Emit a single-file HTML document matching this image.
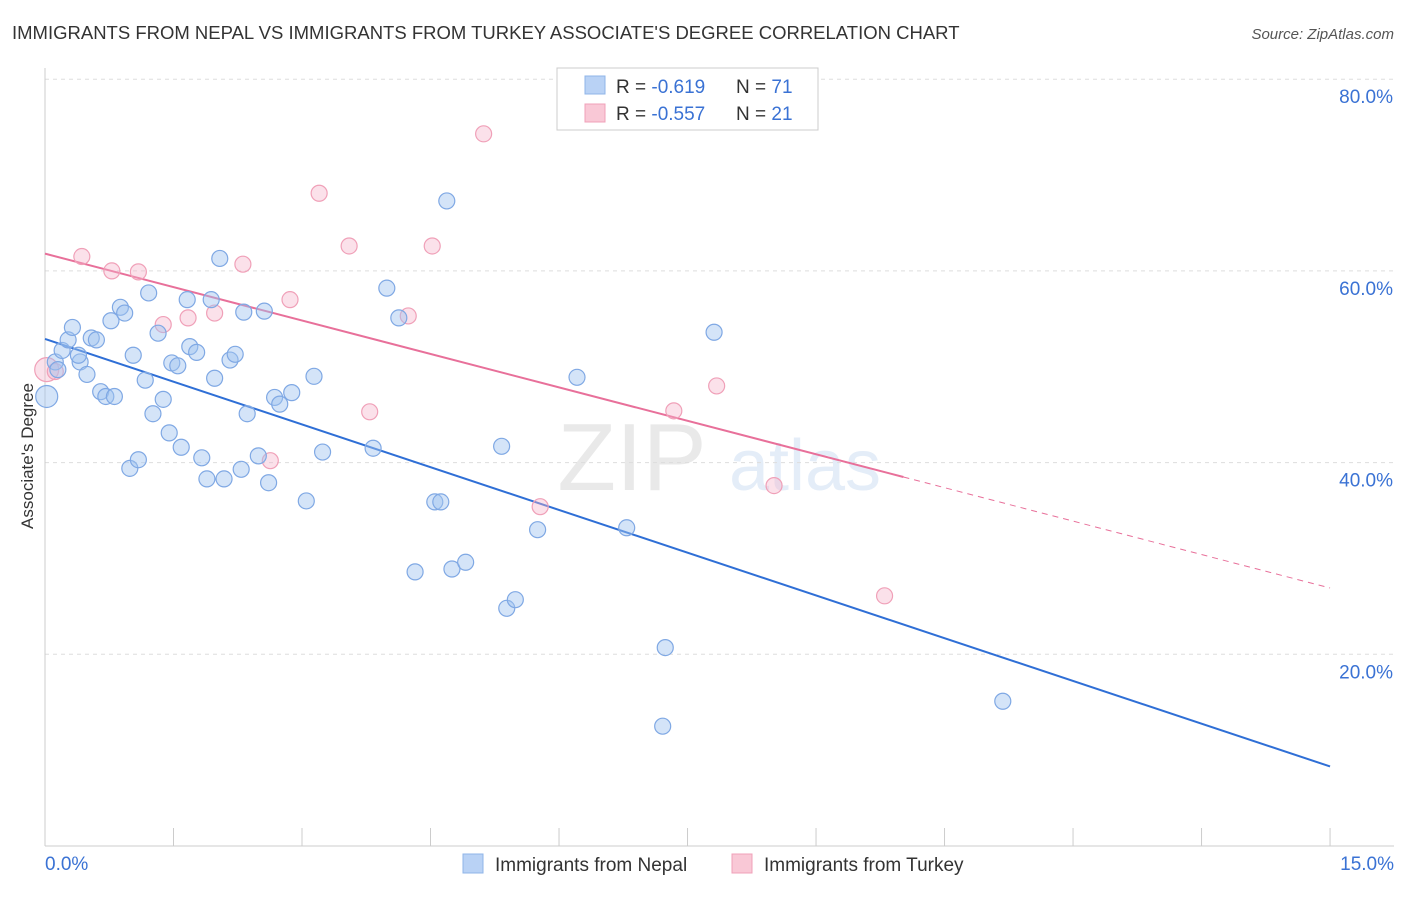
<!DOCTYPE html>
<html><head><meta charset="utf-8"><style>
body{margin:0;background:#fff;font-family:"Liberation Sans",sans-serif;}
svg text{font-family:"Liberation Sans",sans-serif;}
</style></head><body>
<svg id="chart" width="1406" height="892" viewBox="0 0 1406 892">
<text x="12" y="39" font-size="18.5" fill="#333">IMMIGRANTS FROM NEPAL VS IMMIGRANTS FROM TURKEY ASSOCIATE'S DEGREE CORRELATION CHART</text>
<text x="1394" y="39" font-size="15" fill="#555" text-anchor="end" font-style="italic">Source: ZipAtlas.com</text>
<text transform="translate(33,456) rotate(-90)" font-size="17" fill="#333" text-anchor="middle">Associate's Degree</text>
<g opacity="0.18">
<text x="632" y="490" font-size="96" fill="#888" text-anchor="middle" font-family="Liberation Serif">ZIP</text>
<text x="805" y="490" font-size="72" fill="#6f9fdc" text-anchor="middle">atlas</text>
</g>
<g id="grid"></g><g id="axes"></g><g id="lines"></g><g id="pts"></g>
<g>
<rect x="557" y="68" width="261" height="62" fill="#fff" stroke="#ccc"/>
<rect x="585" y="76" width="20" height="18" fill="#b9d2f5" stroke="#8fb4e8"/>
<rect x="585" y="104" width="20" height="18" fill="#f9c8d6" stroke="#f0a0b8"/>
<text x="616" y="93" font-size="19" fill="#333">R = <tspan fill="#3a72d4">-0.619</tspan></text>
<text x="736" y="93" font-size="19" fill="#333">N = <tspan fill="#3a72d4">71</tspan></text>
<text x="616" y="120" font-size="19" fill="#333">R = <tspan fill="#3a72d4">-0.557</tspan></text>
<text x="736" y="120" font-size="19" fill="#333">N = <tspan fill="#3a72d4">21</tspan></text>
</g>
<g>
<rect x="463" y="854" width="20" height="19" fill="#b9d2f5" stroke="#8fb4e8"/>
<text x="495" y="871" font-size="19" fill="#333">Immigrants from Nepal</text>
<rect x="732" y="854" width="20" height="19" fill="#f9c8d6" stroke="#f0a0b8"/>
<text x="764" y="871" font-size="19" fill="#333">Immigrants from Turkey</text>
</g>
</svg>
<script>
const nepalX=[0.02,0.12,0.15,0.20,0.27,0.32,0.41,0.39,0.49,0.54,0.60,0.65,0.71,0.81,0.77,0.88,0.93,1.03,0.99,1.09,1.17,1.21,1.26,1.32,1.38,1.45,1.48,1.55,1.59,1.66,1.69,1.77,1.83,1.89,1.94,1.98,2.04,2.09,2.16,2.22,2.29,2.32,2.36,2.49,2.56,2.61,2.68,2.74,2.88,3.05,3.14,3.24,3.83,3.99,4.13,4.32,4.55,4.62,4.69,4.75,4.91,5.33,5.39,5.49,5.75,6.21,6.79,7.24,7.21,7.81,11.18];
const nepalY=[46.9,50.5,49.7,51.7,52.8,54.1,50.5,51.2,49.2,53.0,52.8,47.4,46.9,46.9,54.8,56.2,55.6,51.2,39.4,40.3,48.6,57.7,45.1,53.5,46.6,43.1,50.4,50.1,41.6,57.0,52.1,51.5,40.5,38.3,57.0,48.8,61.3,38.3,50.7,51.3,39.3,55.7,45.1,40.7,55.8,37.9,46.8,46.1,47.3,36.0,49.0,41.1,41.5,58.2,55.1,28.6,35.9,35.9,67.3,28.9,29.6,41.7,24.8,25.7,33.0,48.9,33.2,20.7,12.5,53.6,15.1];
const turkeyX=[0.02,0.12,0.43,0.78,1.09,1.38,1.67,1.98,2.31,2.63,2.86,3.20,3.55,3.79,4.24,4.52,5.12,5.78,7.34,7.84,8.51,9.80];
const turkeyY=[49.7,49.5,61.5,60.0,59.9,54.4,55.1,55.6,60.7,40.2,57.0,68.1,62.6,45.3,55.3,62.6,74.3,35.4,45.4,48.0,37.6,26.1];
const yTicks=[20,40,60,80];
const nepalTrend=[52.9,8.3];
const turkeyTrend=[61.8,38.5,10.02];
const NS="http://www.w3.org/2000/svg";
const sx=v=>45+v*85.67, sy=v=>846-v*9.585;
function mk(tag,attrs,parent){const e=document.createElementNS(NS,tag);for(const k in attrs)e.setAttribute(k,attrs[k]);document.getElementById(parent).appendChild(e);return e;}
yTicks.forEach(t=>{
 const l=mk('line',{x1:45,x2:1394,y1:sy(t),y2:sy(t),stroke:'#ddd','stroke-dasharray':'4,4'},'grid');
 
 
 const tx=mk('text',{x:1393,y:sy(t)+24,'font-size':19,fill:'#3a72d4','text-anchor':'end'},'grid');
 tx.textContent=t.toFixed(1)+'%';
 
 
});
const ax=mk('line',{x1:45,x2:45,y1:68,y2:846,stroke:'#ccc'},'axes');


const bx=mk('line',{x1:45,x2:1394,y1:846,y2:846,stroke:'#ccc'},'axes');


for(let i=0;i<=10;i++){const l=mk('line',{x1:sx(i*1.5),x2:sx(i*1.5),y1:828,y2:846,stroke:'#ccc'},'axes');
 
 }
const x0=mk('text',{x:45,y:870,'font-size':19,fill:'#3a72d4'},'axes');x0.textContent='0.0%';


const x1=mk('text',{x:1394,y:870,'font-size':19,fill:'#3a72d4','text-anchor':'end'},'axes');x1.textContent='15.0%';


const bl=mk('line',{x1:sx(0),y1:sy(nepalTrend[0]),x2:sx(15),y2:sy(nepalTrend[1]),stroke:'#2f6fd6','stroke-width':2},'lines');


const slope=(turkeyTrend[1]-turkeyTrend[0])/turkeyTrend[2];
const pl=mk('line',{x1:sx(0),y1:sy(turkeyTrend[0]),x2:sx(turkeyTrend[2]),y2:sy(turkeyTrend[1]),stroke:'#e8709a','stroke-width':2},'lines');


const pd=mk('line',{x1:sx(turkeyTrend[2]),y1:sy(turkeyTrend[1]),x2:sx(15),y2:sy(turkeyTrend[0]+slope*15),stroke:'#e8709a','stroke-width':1,'stroke-dasharray':'6,5'},'lines');


turkeyX.forEach((x,i)=>{const c=mk('circle',{cx:sx(x),cy:sy(turkeyY[i]),r:i==0?12:8,fill:'rgba(246,180,202,0.4)',stroke:'#f0a0b8','stroke-width':1.2},'pts');
 
 });
nepalX.forEach((x,i)=>{const c=mk('circle',{cx:sx(x),cy:sy(nepalY[i]),r:i==0?11:8,fill:'rgba(160,195,240,0.45)',stroke:'#7fa8e4','stroke-width':1.2},'pts');
 
 });
</script>
</body></html>
